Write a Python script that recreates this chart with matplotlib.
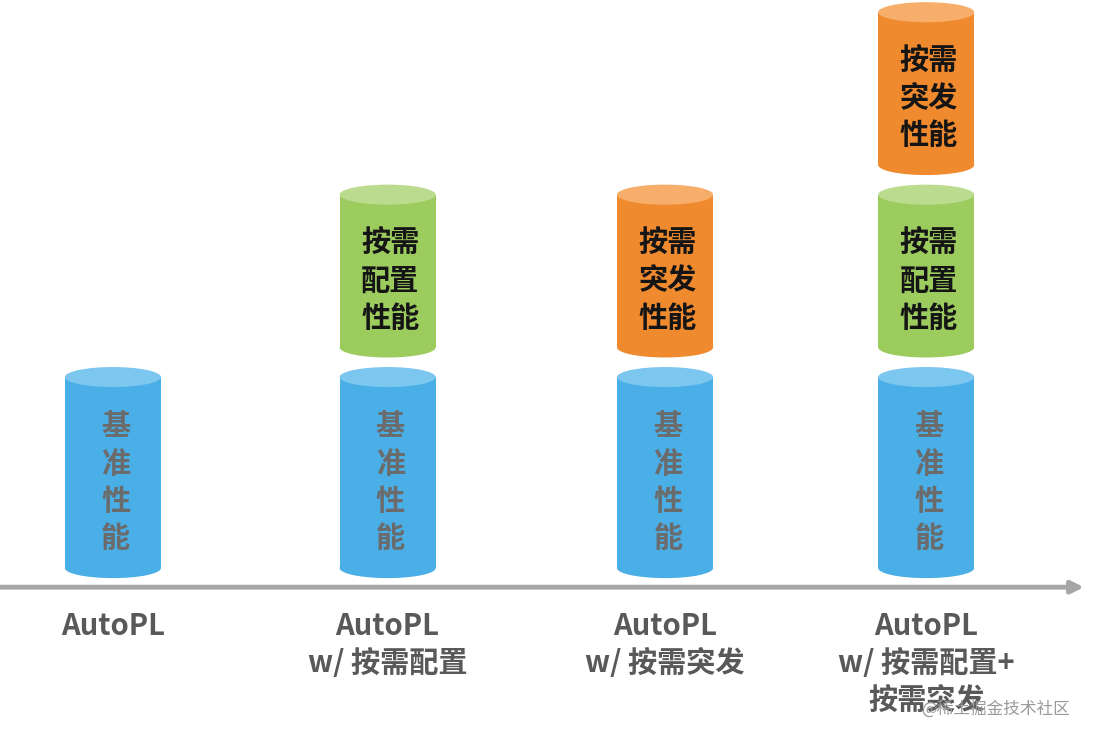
import matplotlib.pyplot as plt
from matplotlib.patches import Ellipse, Rectangle

plt.rcParams['font.family'] = ['Noto Sans CJK SC', 'DejaVu Sans']

# categories along the arrow
categories = ["AutoPL", "AutoPL\nw/ 按需配置", "AutoPL\nw/ 按需突发", "AutoPL\nw/ 按需配置+\n按需突发"]
cat_pos = [0.0, 1.01, 2.03, 2.99]

# stacked segments (relative heights)
base_perf = [1.0, 1.0, 1.0, 1.0]
config_perf = [0, 0.8, 0, 0.8]
burst_perf = [0, 0, 0.8, 0.8]

seg_labels = ["基\n准\n性\n能", "按需\n配置\n性能", "按需\n突发\n性能"]
seg_values = [base_perf, config_perf, burst_perf]
seg_body = ["#4aaee7", "#9ccb5e", "#f08a2f"]
seg_top = ["#7cc7f0", "#bbdc8f", "#f6ae6a"]
seg_text = ["#6b6b6b", "#151515", "#151515"]

cyl_w = 0.353
ell_h = 0.105
gap = 0.155

fig = plt.figure(figsize=(10.94, 7.40), dpi=100)
ax = fig.add_axes([0, 0, 1, 1])
ax.set_xlim(-0.415, 3.607)
ax.set_ylim(-0.90, 2.974)
ax.axis('off')

for i, cat in enumerate(categories):
    x = cat_pos[i]
    bottom = 0.0
    for label, vals, body, top, tc in zip(seg_labels, seg_values, seg_body, seg_top, seg_text):
        v = vals[i]
        if v <= 0:
            continue
        x0 = x - cyl_w / 2
        ax.add_patch(Ellipse((x, bottom), cyl_w, ell_h, color=body, lw=0, zorder=2))
        ax.add_patch(Rectangle((x0, bottom), cyl_w, v, color=body, lw=0, zorder=2))
        ax.add_patch(Ellipse((x, bottom + v), cyl_w, ell_h, color=top, lw=0, zorder=3))
        ax.text(x + 0.01, bottom + v / 2 - 0.05, label, ha='center', va='center',
                fontsize=21, fontweight='bold', color=tc, linespacing=1.3, zorder=4)
        bottom += v + gap
    ax.text(x, -0.225, cat, ha='center', va='top', fontsize=21, fontweight='bold',
            color='#595959', linespacing=1.3)

# horizontal axis arrow
ax.annotate('', xy=(3.57, -0.1), xytext=(-0.415, -0.1),
            arrowprops=dict(arrowstyle='-|>', color='#a6a6a6', lw=3.5, mutation_scale=18,
                            shrinkA=0, shrinkB=0))

ax.text(3.52, -0.74, "@稀土掘金技术社区", ha='right', va='center', fontsize=12,
        color='#9a9a9a')

fig.savefig('out.png', dpi=100)
